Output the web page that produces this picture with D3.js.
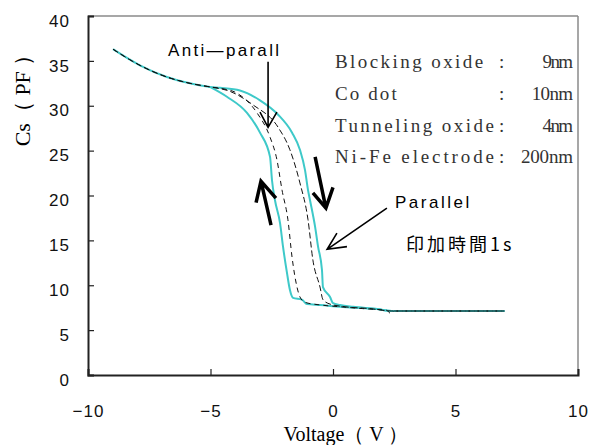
<!DOCTYPE html>
<html>
<head>
<meta charset="UTF-8">
<script src="https://d3js.org/d3.v7.min.js"></script>
<style>
  body { margin: 0; background: #fff; }
  svg text { font-family: "Liberation Sans", Arial, sans-serif; }
  .serif { font-family: "Liberation Serif", "Times New Roman", serif; }
</style>
</head>
<body>
<svg width="593" height="445"></svg>
<script>
// axis ticks
var xTicks = [-10, -5, 0, 5, 10];
var yTicks = [0, 5, 10, 15, 20, 25, 30, 35, 40];

// outer (cyan) loop, right branch
var cyanRightV = [-8.98, -7.88, -6.78, -5.84, -5.02, -4.61, -3.80, -2.98, -2.24, -1.67, -1.35, -1.14, -1.02, -0.94, -0.73, -0.61, -0.45, -0.41, -0.12, 0.0, 0.29, 0.82, 1.8, 2.4, 7.0];
var cyanRightC = [36.3, 34.5, 33.2, 32.5, 32.1, 32.0, 31.7, 30.6, 29.0, 27.0, 25.1, 22.8, 20.6, 19.5, 16.5, 14.3, 11.7, 9.8, 8.7, 8.0, 7.8, 7.6, 7.35, 7.13, 7.13];

// outer (cyan) loop, left branch
var cyanLeftV = [-5.02, -4.33, -3.51, -2.98, -2.57, -2.49, -2.37, -2.16, -2.04, -1.88, -1.76, -1.63, -1.27, -1.06, -0.53, 0.29, 1.8, 2.4, 7.0];
var cyanLeftC = [32.1, 31.0, 29.2, 27.0, 24.3, 21.7, 19.5, 16.9, 14.3, 11.4, 9.5, 8.6, 8.4, 7.9, 7.8, 7.6, 7.35, 7.13, 7.13];

// inner (dashed) loop
var dashLeftV = [-8.98, -7.88, -6.78, -5.84, -5.02, -4.5, -3.92, -3.10, -2.57, -2.29, -2.08, -1.84, -1.67, -1.47, -1.35, -1.14, -0.5, 0.3, 1.2, 2.2, 2.35, 2.5, 7.0];
var dashLeftC = [36.3, 34.5, 33.2, 32.5, 32.1, 31.9, 31.4, 29.2, 26.5, 24.0, 20.6, 17.3, 13.1, 9.8, 8.7, 8.1, 7.8, 7.6, 7.4, 7.2, 6.85, 7.13, 7.13];
var dashRightV = [-8.98, -7.88, -6.78, -5.84, -5.02, -4.2, -3.27, -2.24, -1.76, -1.35, -1.02, -0.82, -0.53, -0.41, -0.12, 0.5, 1.5, 2.4, 7.0];
var dashRightC = [36.3, 34.5, 33.2, 32.5, 32.1, 31.6, 30.1, 27.6, 25.1, 21.4, 17.3, 12.8, 9.8, 8.4, 7.9, 7.6, 7.4, 7.13, 7.13];

// sample description block
var infoNames = ["Blocking oxide", "Co dot", "Tunneling oxide", "Ni-Fe electrode"];
var infoValues = ["9nm", "10nm", "4nm", "200nm"];

var margin = {top: 16, right: 15, bottom: 70, left: 88},
    width = 593 - margin.left - margin.right,
    height = 445 - margin.top - margin.bottom;

var svg = d3.select("svg");
var g = svg.append("g").attr("transform", "translate(" + margin.left + "," + margin.top + ")");

var x = d3.scaleLinear().domain([-10, 10]).range([0, width]);
var y = d3.scaleLinear().domain([0, 40]).range([height, 0]);

function fmt(d) { return d < 0 ? "\u2212" + Math.abs(d) : String(d); }

// frame: top and right in gray
g.append("line").attr("x1", 0).attr("x2", width).attr("y1", 0).attr("y2", 0)
  .attr("stroke", "#8a8a8a").attr("stroke-width", 1.5);
g.append("line").attr("x1", width).attr("x2", width).attr("y1", 0).attr("y2", height)
  .attr("stroke", "#8a8a8a").attr("stroke-width", 1.5);

var xAxis = g.append("g").attr("transform", "translate(0," + height + ")")
  .call(d3.axisBottom(x).tickValues(xTicks).tickSize(-6).tickPadding(30).tickFormat(fmt));
var yAxis = g.append("g")
  .call(d3.axisLeft(y).tickValues(yTicks).tickSize(-6).tickPadding(18).tickFormat(fmt));

[xAxis, yAxis].forEach(function(a) {
  a.select(".domain").attr("stroke", "#222").attr("stroke-width", 2);
  a.selectAll(".tick line").attr("stroke", "#222").attr("stroke-width", 1.2);
  a.selectAll(".tick text").attr("fill", "#111").style("font-size", "17px")
    .style("letter-spacing", "1px");
});
yAxis.selectAll(".tick text").attr("dy", "0.6em");

// curves
function series(vs, cs) { return vs.map(function(v, i) { return [v, cs[i]]; }); }
var line = d3.line().x(function(d) { return x(d[0]); }).y(function(d) { return y(d[1]); })
  .curve(d3.curveMonotoneX);

g.append("path").datum(series(cyanRightV, cyanRightC)).attr("d", line)
  .attr("fill", "none").attr("stroke", "#3ec9c9").attr("stroke-width", 2);
g.append("path").datum(series(cyanLeftV, cyanLeftC)).attr("d", line)
  .attr("fill", "none").attr("stroke", "#3ec9c9").attr("stroke-width", 2);
g.append("path").datum(series(dashLeftV, dashLeftC)).attr("d", line)
  .attr("fill", "none").attr("stroke", "#111").attr("stroke-width", 1)
  .attr("stroke-dasharray", "5,4");
g.append("path").datum(series(dashRightV, dashRightC)).attr("d", line)
  .attr("fill", "none").attr("stroke", "#111").attr("stroke-width", 1)
  .attr("stroke-dasharray", "6,3");

// annotation arrows (data coordinates: shaft start, tip, two head ends)
var arrows = [
  {from: [-2.65, 34.9], tip: [-2.65, 27.6], a: [-2.98, 29.3], b: [-2.29, 29.3], w: 1.6},
  {from: [2.2, 18.6], tip: [-0.24, 14.0], a: [0.16, 15.8], b: [0.57, 14.3], w: 1.6},
  {from: [-0.73, 24.3], tip: [-0.29, 18.6], a: [-0.82, 20.3], b: [0.0, 20.9], w: 3.5},
  {from: [-2.53, 16.7], tip: [-2.94, 21.6], a: [-3.14, 19.2], b: [-2.33, 19.7], w: 3.5}
];
arrows.forEach(function(ar) {
  var p = d3.path();
  p.moveTo(x(ar.from[0]), y(ar.from[1])); p.lineTo(x(ar.tip[0]), y(ar.tip[1]));
  p.moveTo(x(ar.a[0]), y(ar.a[1])); p.lineTo(x(ar.tip[0]), y(ar.tip[1]));
  p.lineTo(x(ar.b[0]), y(ar.b[1]));
  g.append("path").attr("d", p.toString()).attr("fill", "none").attr("stroke", "#000")
    .attr("stroke-width", ar.w).attr("stroke-linejoin", "miter");
});

// labels
g.append("text").attr("x", x(-6.73)).attr("y", y(35.5)).text("Anti\u2014parall")
  .style("font-size", "17px").style("letter-spacing", "2.3px");
g.append("text").attr("x", x(2.53)).attr("y", y(18.6)).text("Parallel")
  .style("font-size", "17px").style("letter-spacing", "2.5px");
g.append("text").attr("x", x(2.98)).attr("y", y(13.8)).text("印加時間1s")
  .style("font-family", "'Noto Sans CJK JP', sans-serif")
  .style("font-size", "18px").style("letter-spacing", "3px");

// fixed-pitch serif block: name, colon column, right-aligned value
var cw = 10.8, x0 = x(0.08), xEnd = width - 5;
var info = g.selectAll("g.info").data(infoNames).enter().append("g")
  .attr("class", "info")
  .attr("transform", function(d, i) { return "translate(0," + (y(34.2) + i * 31.8) + ")"; });
info.append("text").attr("class", "serif").attr("x", x0)
  .attr("textLength", function(d) { return d.length * cw - 3; }).attr("lengthAdjust", "spacing")
  .attr("fill", "#333").style("font-size", "19px").text(function(d) { return d; });
info.append("text").attr("class", "serif").attr("x", x0 + 15 * cw + 2)
  .attr("fill", "#333").style("font-size", "19px").text(":");
info.append("text").attr("class", "serif").attr("x", xEnd).attr("text-anchor", "end")
  .attr("textLength", function(d, i) { return infoValues[i].length * cw - 2; })
  .attr("lengthAdjust", "spacing")
  .attr("fill", "#333").style("font-size", "19px").text(function(d, i) { return infoValues[i]; });

// axis titles
svg.append("text").attr("class", "serif")
  .attr("transform", "translate(30,95) rotate(-90)")
  .attr("text-anchor", "middle").style("font-size", "22px")
  .text("Cs（ PF ）");
svg.append("text").attr("class", "serif")
  .attr("x", 346).attr("y", 441).attr("text-anchor", "middle").style("font-size", "20px")
  .text("Voltage（ V ）");
</script>
</body>
</html>
